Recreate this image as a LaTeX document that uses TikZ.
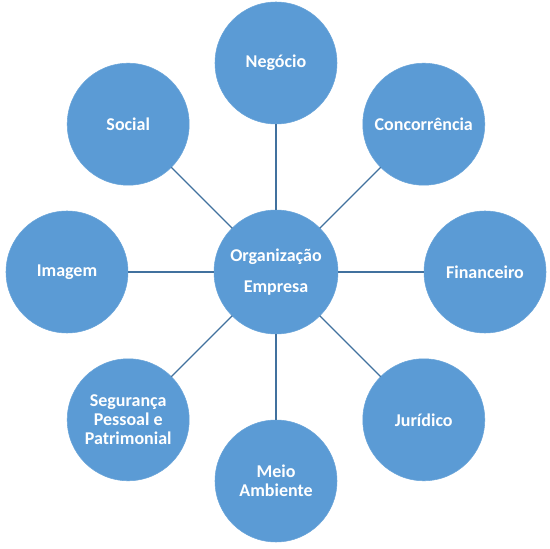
\documentclass[tikz,border=0pt]{standalone}
\usepackage{fontspec}
\setmainfont{Carlito}
\usepackage{tikz}
\usetikzlibrary{positioning}
\definecolor{bubblefill}{RGB}{91,155,213}
\definecolor{spokeline}{RGB}{65,113,158}
\tikzset{
  bubble/.style={circle,fill=bubblefill,draw=bubblefill!90!white,line width=0.4pt,
    inner sep=0pt,outer sep=0pt,minimum size=91.5pt,align=center,text=white,
    font=\fontsize{13.5}{14.5}\selectfont\bfseries},
  hubbubble/.style={bubble,minimum size=93pt},
  spoke/.style={draw=spokeline,line width=0.8pt}
}
\begin{document}
\begin{tikzpicture}[x=0.75pt,y=0.75pt]
  \useasboundingbox (-276,-277) rectangle (274,272);
  %% hub
  \node[hubbubble] (org) at (0,0) {Organização\\[8.5pt]Empresa};

  %% outer ring
  \node[bubble] (neg) at (90:209)  {Negócio};
  \node[bubble] (conc) at (45:209) {Concorrência};
  \node[bubble] (fin) at (0:209)   {Financeiro};
  \node[bubble] (jur) at (-45:209) {Jurídico};
  \node[bubble] (meio) at (-90:209) {Meio\\Ambiente};
  \node[bubble] (seg) at (-135:209) {Segurança\\Pessoal e\\Patrimonial};
  \node[bubble] (img) at (180:209) {Imagem};
  \node[bubble] (soc) at (135:209) {Social};

  %% spokes
  \draw[spoke] (org) -- (neg);
  \draw[spoke] (org) -- (conc);
  \draw[spoke] (org) -- (fin);
  \draw[spoke] (org) -- (jur);
  \draw[spoke] (org) -- (meio);
  \draw[spoke] (org) -- (seg);
  \draw[spoke] (org) -- (img);
  \draw[spoke] (org) -- (soc);
\end{tikzpicture}
\end{document}
